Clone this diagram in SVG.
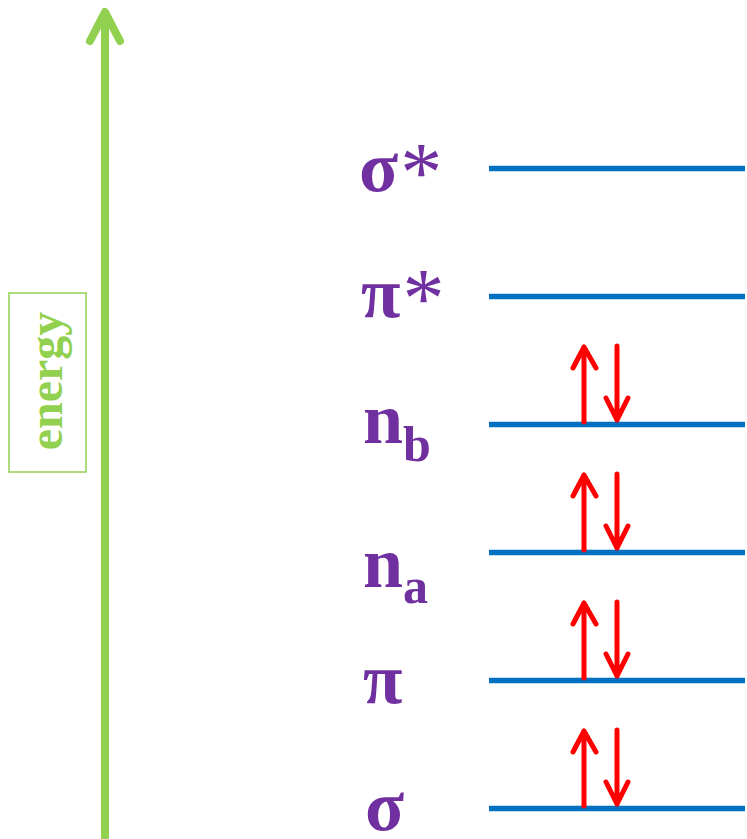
<svg xmlns="http://www.w3.org/2000/svg" width="747" height="839" viewBox="0 0 747 839">
<style>
.lvl{stroke:#0070C0;stroke-width:5.5;fill:none}
.e{stroke:#FF0000;stroke-width:5;fill:none;stroke-linecap:round;stroke-linejoin:round}
.lab{font-family:"Liberation Serif","Times New Roman",serif;font-weight:bold;fill:#7030A0}
.big{font-size:72px}
.sub{font-size:50px}
.ast{font-size:84px;font-weight:normal}
</style>
<rect width="747" height="839" fill="#fff"/>
<g id="energy-axis">
<path d="M105,839 V12" stroke="#92D050" stroke-width="8" fill="none"/>
<path d="M90,41 L105,12 L120,41" stroke="#92D050" stroke-width="8" fill="none" stroke-linecap="round" stroke-linejoin="round"/>
</g>
<g id="energy-label">
<rect x="9" y="293" width="77" height="179" fill="none" stroke="#92D050" stroke-width="1.5"/>
<text transform="translate(62,381) rotate(-90)" text-anchor="middle" font-family="Liberation Serif,serif" font-weight="bold" font-size="48" fill="#92D050">energy</text>
</g>
<g id="connectors">
<path class="lvl" d="M489,168.5 H745"/>
<path class="lvl" d="M489,296.5 H745"/>
<path class="lvl" d="M489,424.5 H745"/>
<path class="lvl" d="M489,552.5 H745"/>
<path class="lvl" d="M489,680.5 H745"/>
<path class="lvl" d="M489,808.5 H745"/>
</g>
<g id="electrons">
<g id="e-nb"><path class="e" d="M584,422 V347 M573,368 L584,347 L596,368"/><path class="e" d="M617,346 V420 M606,398 L617,420 L628,398"/></g>
<g id="e-na" transform="translate(0,128)"><path class="e" d="M584,422 V347 M573,368 L584,347 L596,368"/><path class="e" d="M617,346 V420 M606,398 L617,420 L628,398"/></g>
<g id="e-pi" transform="translate(0,256)"><path class="e" d="M584,422 V347 M573,368 L584,347 L596,368"/><path class="e" d="M617,346 V420 M606,398 L617,420 L628,398"/></g>
<g id="e-sigma" transform="translate(0,384)"><path class="e" d="M584,422 V347 M573,368 L584,347 L596,368"/><path class="e" d="M617,346 V420 M606,398 L617,420 L628,398"/></g>
</g>
<g id="sigma-star"><text class="lab big" x="359" y="191">σ<tspan class="ast" dx="2" dy="10">*</tspan></text></g>
<g id="pi-star"><text class="lab big" x="361" y="317">π<tspan class="ast" dx="2" dy="10">*</tspan></text></g>
<g id="nb"><text class="lab big" x="363" y="443">n<tspan class="sub" dy="18">b</tspan></text></g>
<g id="na"><text class="lab big" x="363" y="587">n<tspan class="sub" dy="16">a</tspan></text></g>
<g id="pi"><text class="lab big" x="363" y="703">π</text></g>
<g id="sigma"><text class="lab big" x="365" y="830">σ</text></g>
</svg>
